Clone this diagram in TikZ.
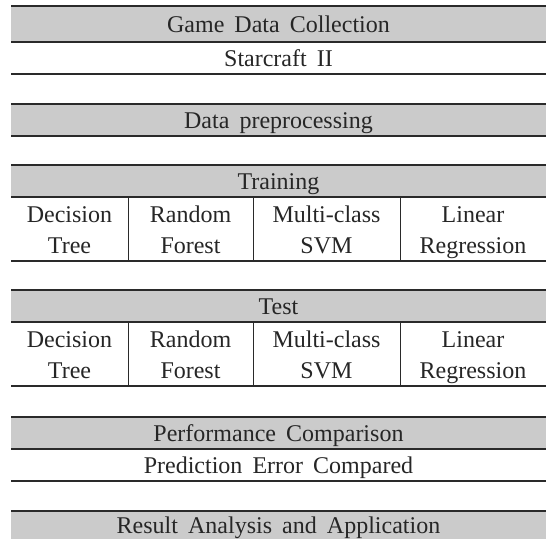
\documentclass[tikz,border=0pt]{standalone}
\usepackage{fontspec}
\setmainfont{Liberation Serif}
\definecolor{bandgray}{HTML}{CBCBCB}
\definecolor{rulecol}{HTML}{2A2A2A}
\newcommand{\lblfont}{\fontsize{24}{31}\selectfont\spaceskip=0.42em plus 0.1em\relax}
\newcommand{\ls}{\rule[-7pt]{0pt}{31pt}}
\begin{document}
\begin{tikzpicture}[x=1pt,y=-1pt,
  lbl/.style={font=\lblfont, inner sep=0pt, outer sep=0pt, align=center, text=black!85, anchor=north west},
  band/.style={lbl, fill=bandgray, minimum width=535pt, minimum height=32pt},
  plain/.style={lbl, minimum width=535pt, minimum height=32pt},
  cell/.style={lbl, minimum height=64pt},
  rule/.style={line width=1.3pt, draw=rulecol},
  vrule/.style={line width=1pt, draw=rulecol}]
\useasboundingbox (0,0) rectangle (546,539);

% Game data collection
\node[band, minimum height=36pt] (gdc) at (11,6) {Game Data Collection\ls};
\node[plain] (sc) at (11,42) {Starcraft II\ls};
\draw[rule] (gdc.north west) -- (gdc.north east);
\draw[rule] (gdc.south west) -- (gdc.south east);
\draw[rule] (sc.south west) -- (sc.south east);

% Preprocessing
\node[band] (pre) at (11,104) {Data preprocessing\ls};
\draw[rule] (pre.north west) -- (pre.north east);
\draw[rule] (pre.south west) -- (pre.south east);

% Training
\node[band] (tr) at (11,165) {Training\ls};
\node[cell, minimum width=117pt] (tr1) at (11,197) {Decision\ls\\Tree\ls};
\node[cell, minimum width=125pt] (tr2) at (128,197) {Random\ls\\Forest\ls};
\node[cell, minimum width=147pt] (tr3) at (253,197) {Multi-class\ls\\SVM\ls};
\node[cell, minimum width=146pt] (tr4) at (400,197) {Linear\ls\\Regression\ls};
\draw[rule] (tr.north west) -- (tr.north east);
\draw[rule] (tr.south west) -- (tr.south east);
\draw[rule] (tr1.south west) -- (tr4.south east);
\draw[vrule] (tr1.north east) -- (tr1.south east);
\draw[vrule] (tr2.north east) -- (tr2.south east);
\draw[vrule] (tr3.north east) -- (tr3.south east);

% Test
\node[band] (te) at (11,290) {Test\ls};
\node[cell, minimum width=117pt] (te1) at (11,322) {Decision\ls\\Tree\ls};
\node[cell, minimum width=125pt] (te2) at (128,322) {Random\ls\\Forest\ls};
\node[cell, minimum width=147pt] (te3) at (253,322) {Multi-class\ls\\SVM\ls};
\node[cell, minimum width=146pt] (te4) at (400,322) {Linear\ls\\Regression\ls};
\draw[rule] (te.north west) -- (te.north east);
\draw[rule] (te.south west) -- (te.south east);
\draw[rule] (te1.south west) -- (te4.south east);
\draw[vrule] (te1.north east) -- (te1.south east);
\draw[vrule] (te2.north east) -- (te2.south east);
\draw[vrule] (te3.north east) -- (te3.south east);

% Performance comparison
\node[band] (pc) at (11,417) {Performance Comparison\ls};
\node[plain] (pe) at (11,449) {Prediction Error Compared\ls};
\draw[rule] (pc.north west) -- (pc.north east);
\draw[rule] (pc.south west) -- (pc.south east);
\draw[rule] (pe.south west) -- (pe.south east);

% Result
\node[band, minimum height=28pt] (ra) at (11,511) {};
\node[lbl, anchor=center] (ratext) at (278.5,525) {Result Analysis and Application\ls};
\draw[rule] (ra.north west) -- (ra.north east);
\end{tikzpicture}
\end{document}
